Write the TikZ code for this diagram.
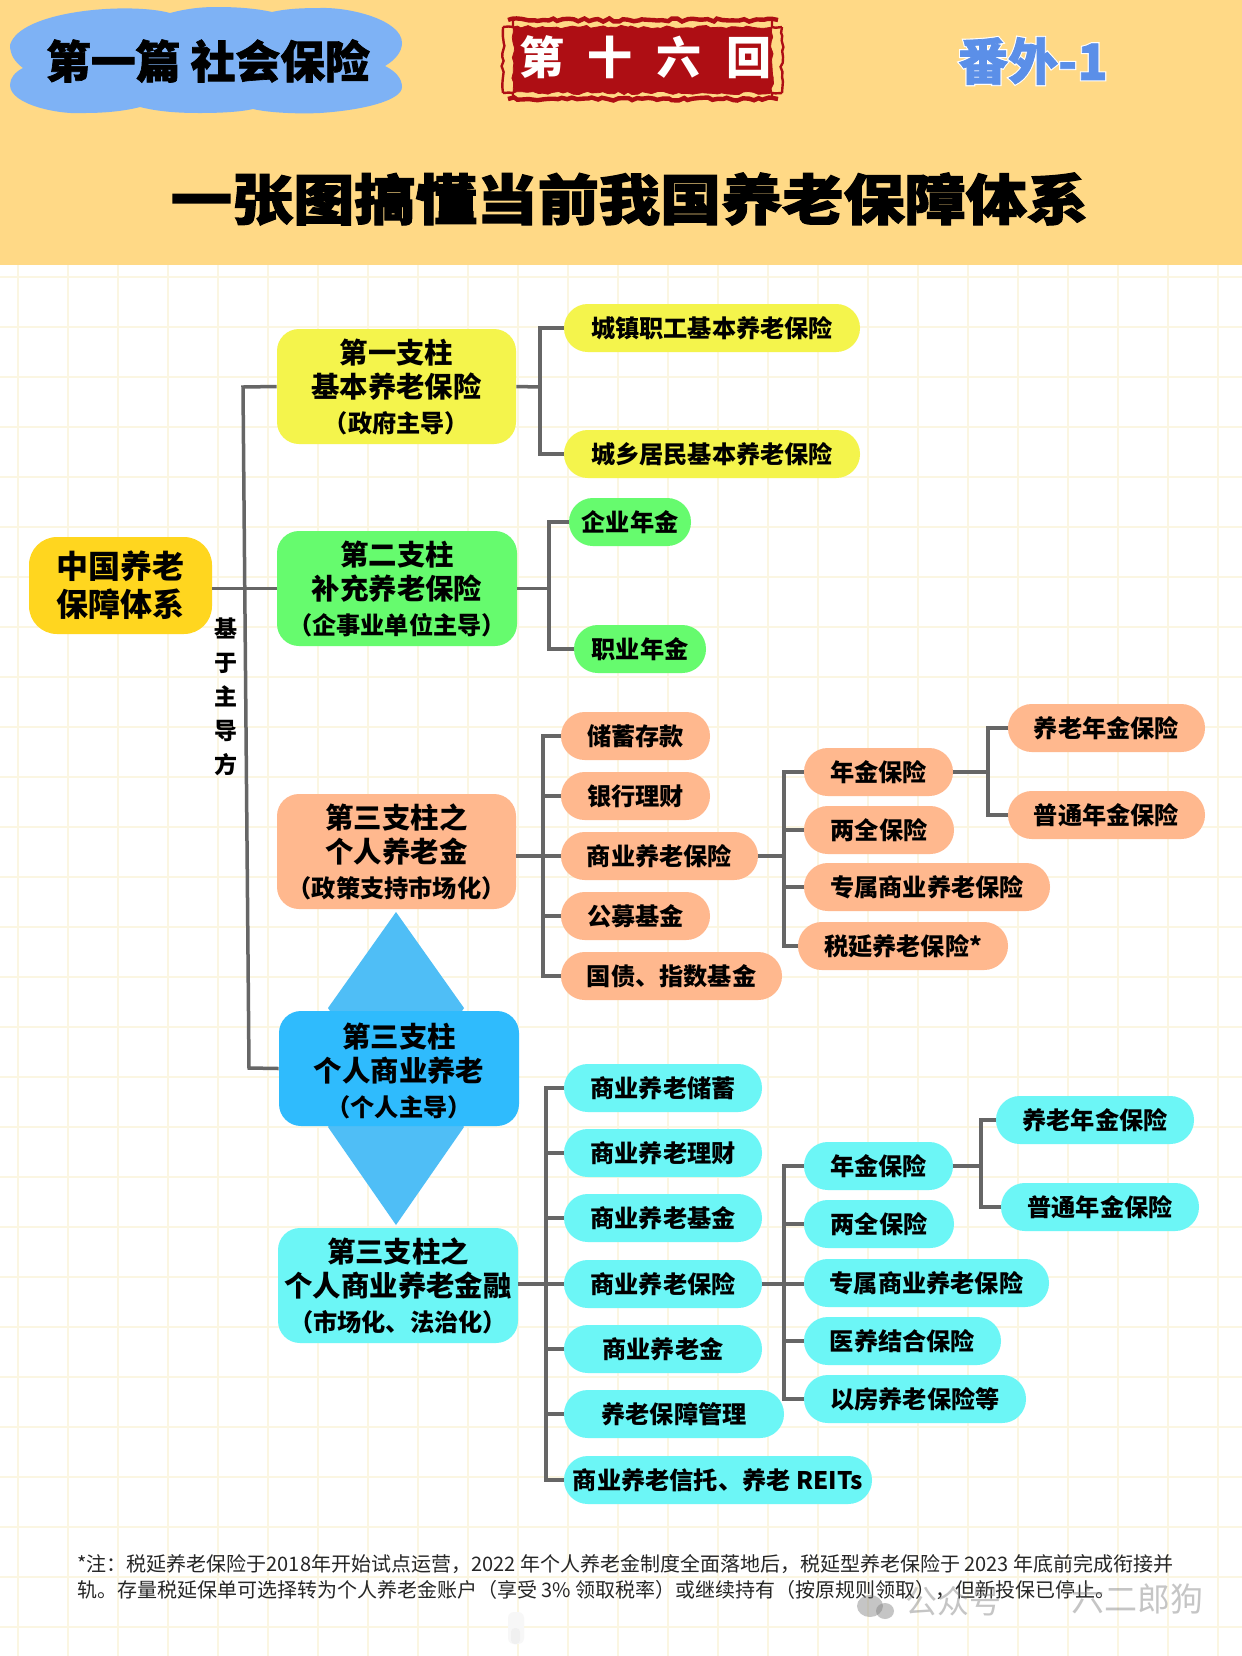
\documentclass[tikz,border=0pt]{standalone}
\usepackage{fontspec}
\usetikzlibrary{decorations.pathmorphing}
\setmainfont{Noto Sans CJK SC}
\newfontfamily\heavyfont[BoldFeatures={FakeBold=2.2,FakeStretch=1.12}]{Noto Sans CJK SC}
\newfontfamily\haloblock[BoldFeatures={FakeBold=6}]{Noto Sans CJK SC}
\newfontfamily\midheavy[BoldFeatures={FakeBold=1.5}]{Noto Sans CJK SC}
\definecolor{headbg}{HTML}{FFD986}
\definecolor{gridc}{HTML}{FBF6E2}
\definecolor{cloudc}{HTML}{7EB2F5}
\definecolor{sealred}{HTML}{AE0E14}
\definecolor{linegrey}{HTML}{666666}
\definecolor{rootc}{HTML}{FFD61F}
\definecolor{yellowc}{HTML}{F4F44C}
\definecolor{greenc}{HTML}{66FB6E}
\definecolor{orangec}{HTML}{FFB88E}
\definecolor{bluec}{HTML}{2FBBFD}
\definecolor{diac}{HTML}{4FBEF6}
\definecolor{cyanc}{HTML}{6CF6F6}
\definecolor{numc}{HTML}{5B8FE8}
\tikzset{
  conn/.style={draw=linegrey,line width=1.75pt,line join=miter},
  pill/.style={inner sep=0pt,rounded corners=11.9pt,font=\fontsize{12.1}{14}\selectfont\bfseries,text=black},
  bignode/.style={inner sep=0pt,rounded corners=11pt,align=center,font=\fontsize{14.2}{17}\selectfont\bfseries,text=black},
  rootnode/.style={inner sep=0pt,rounded corners=14pt,align=center,font=\fontsize{16}{19}\selectfont\bfseries,text=black},
  sealline/.style={draw=sealred,decorate,decoration={random steps,segment length=2.5pt,amplitude=0.8pt}},
}
\newcommand{\bx}[7]{\node[#2,minimum width={(#5-#3)*0.5},minimum height={(#6-#4)*0.5}] (#1) at ({(#3+#5)/2},{(#4+#6)/2}) {#7};}
\newcommand{\subl}[1]{{\fontsize{12.1}{14}\selectfont #1}}
\begin{document}
\begin{tikzpicture}[x=0.5pt,y=-0.5pt]
\pgfmathsetseed{7}
\useasboundingbox (0,0) rectangle (1242,1656);
\fill[white] (0,0) rectangle (1242,1656);
% grid
\foreach \k in {0,...,24} {\draw[gridc,line width=0.7pt] ({18+50*\k},265) -- ({18+50*\k},1656);}
\foreach \k in {5,...,32} {\draw[gridc,line width=1pt] (0,{27+50*\k}) -- (1242,{27+50*\k});}
% header
\fill[headbg] (0,0) rectangle (1242,265);
% cloud
\fill[cloudc] (170,13) .. controls (130,2) and (20,10) .. (10,45)
  .. controls (10,55) and (15,62) .. (23,68)
  .. controls (15,72) and (10,78) .. (10,85)
  .. controls (10,105) and (60,115) .. (85,113)
  .. controls (105,113) and (125,111) .. (140,107)
  .. controls (160,112) and (180,113) .. (200,113)
  .. controls (220,113) and (240,112) .. (253,109)
  .. controls (270,113) and (300,114) .. (320,113)
  .. controls (365,110) and (402,100) .. (402,87)
  .. controls (402,78) and (395,71) .. (385,66)
  .. controls (395,60) and (402,52) .. (402,43)
  .. controls (402,20) and (350,7) .. (320,8)
  .. controls (300,8) and (285,9) .. (272,12)
  .. controls (250,7) and (225,7) .. (215,7)
  .. controls (200,7) and (185,9) .. (170,13) -- cycle;
\node[inner sep=0pt,font=\fontsize{22.4}{24}\selectfont\midheavy\bfseries] (sect) at (208,61) {第一篇 社会保险};
% seal
\fill[sealred,sealline] (513,27) rectangle (772,93);
\draw[sealline,line width=2.2pt] (508,20) -- (778,20);
\draw[sealline,line width=2.2pt] (508,99) -- (778,99);
\draw[sealline,line width=1.2pt] (503,27) -- (503,93);
\draw[sealline,line width=1.2pt] (782,27) -- (782,93);
\draw[sealline,line width=1.2pt] (503,27) -- (513,27) -- (513,20);
\draw[sealline,line width=1.2pt] (782,27) -- (772,27) -- (772,20);
\draw[sealline,line width=1.2pt] (503,93) -- (513,93) -- (513,99);
\draw[sealline,line width=1.2pt] (782,93) -- (772,93) -- (772,99);
\node[inner sep=0pt,text=white,font=\fontsize{22.5}{24}\selectfont\bfseries] (seal) at (645,57) {第\hspace{12pt}十\hspace{12pt}六\hspace{12pt}回};
% extra label
\node[inner sep=0pt,text=numc,font=\fontsize{25}{28}\selectfont\midheavy\bfseries] (extra) at (1033,61) {\rlap{\color{white}\haloblock\bfseries 番外-1}番外-1};
% title
\node[inner sep=0pt,font=\fontsize{27.3}{33}\selectfont\heavyfont\bfseries] (title) at (629.5,199) {一张图搞懂当前我国养老保障体系};
% diamond
\fill[diac] (396,912) -- (464,1008) -- (460,1014) -- (332,1014) -- (328,1008) -- cycle;
\fill[diac] (396,1225) -- (464,1127) -- (460,1122) -- (332,1122) -- (328,1127) -- cycle;

% nodes
\bx{root}{rootnode,fill=rootc}{29}{537}{212}{634}{中国养老\\保障体系}
\bx{p1}{bignode,fill=yellowc}{277}{329}{516}{444}{第一支柱\\基本养老保险\\[0.5pt]\subl{（政府主导）}}
\bx{p2}{bignode,fill=greenc}{277}{531}{517}{646}{第二支柱\\补充养老保险\\[0.5pt]\subl{（企事业单位主导）}}
\bx{p3a}{bignode,fill=orangec}{277}{794}{516}{909}{第三支柱之\\个人养老金\\[0.5pt]\subl{（政策支持市场化）}}
\bx{p3}{bignode,fill=bluec}{279}{1011}{519}{1126}{\rule{0pt}{15pt}第三支柱\\个人商业养老\\[0.5pt]\subl{（个人主导）}}
\bx{p3b}{bignode,fill=cyanc}{278}{1228}{518}{1343}{第三支柱之\\个人商业养老金融\\[0.5pt]\subl{（市场化、法治化）}}

\bx{y1}{pill,fill=yellowc}{564}{304}{860}{352}{城镇职工基本养老保险}
\bx{y2}{pill,fill=yellowc}{564}{430}{860}{478}{城乡居民基本养老保险}
\bx{g1}{pill,fill=greenc}{569}{498}{691}{546}{企业年金}
\bx{g2}{pill,fill=greenc}{574}{625}{706}{673}{职业年金}

\bx{o1}{pill,fill=orangec}{561}{712}{710}{760}{储蓄存款}
\bx{o2}{pill,fill=orangec}{561}{772}{710}{820}{银行理财}
\bx{o3}{pill,fill=orangec}{561}{832}{758}{880}{商业养老保险}
\bx{o4}{pill,fill=orangec}{561}{892}{710}{940}{公募基金}
\bx{o5}{pill,fill=orangec}{561}{952}{782}{1000}{国债、指数基金}
\bx{oa}{pill,fill=orangec}{804}{748}{953}{796}{年金保险}
\bx{ob}{pill,fill=orangec}{804}{806}{954}{854}{两全保险}
\bx{oc}{pill,fill=orangec}{804}{863}{1050}{911}{专属商业养老保险}
\bx{od}{pill,fill=orangec}{798}{922}{1008}{970}{税延养老保险*}
\bx{oe}{pill,fill=orangec}{1008}{704}{1205}{752}{养老年金保险}
\bx{of}{pill,fill=orangec}{1008}{791}{1205}{839}{普通年金保险}

\bx{c1}{pill,fill=cyanc}{564}{1064}{762}{1112}{商业养老储蓄}
\bx{c2}{pill,fill=cyanc}{564}{1129}{762}{1177}{商业养老理财}
\bx{c3}{pill,fill=cyanc}{564}{1194}{762}{1242}{商业养老基金}
\bx{c4}{pill,fill=cyanc}{564}{1260}{762}{1308}{商业养老保险}
\bx{c5}{pill,fill=cyanc}{564}{1325}{762}{1373}{商业养老金}
\bx{c6}{pill,fill=cyanc}{564}{1390}{784}{1438}{养老保障管理}
\bx{c7}{pill,fill=cyanc}{564}{1456}{872}{1504}{商业养老信托、养老 REITs}
\bx{ca}{pill,fill=cyanc}{804}{1142}{953}{1190}{年金保险}
\bx{cb}{pill,fill=cyanc}{804}{1200}{954}{1248}{两全保险}
\bx{cc}{pill,fill=cyanc}{804}{1259}{1049}{1307}{专属商业养老保险}
\bx{cd}{pill,fill=cyanc}{804}{1317}{1001}{1365}{医养结合保险}
\bx{ce}{pill,fill=cyanc}{804}{1375}{1026}{1423}{以房养老保险等}
\bx{cf}{pill,fill=cyanc}{996}{1096}{1194}{1144}{养老年金保险}
\bx{cg}{pill,fill=cyanc}{1001}{1183}{1199}{1231}{普通年金保险}

% connectors
\coordinate (t1) at (243,387);
\coordinate (t2) at (249,1068);
\coordinate (s1) at (540,387);
\coordinate (s2) at (549,588.5);
\coordinate (s3) at (543,856);
\coordinate (s3b) at (784,856);
\coordinate (s3c) at (988,772);
\coordinate (s4) at (546,1285);
\coordinate (s4b) at (784,1284);
\coordinate (s4c) at (981,1166);
\draw[conn] (root.east |- p2.west) -- (p2.west);
\draw[conn] (p1.west) -- (t1) -- (t2) -- (p3.west);
\draw[conn] (p1.east) -- (s1);
\draw[conn] (y1.west) -- (y1.west -| s1) -- (y2.west -| s1) -- (y2.west);
\draw[conn] (p2.east) -- (s2);
\draw[conn] (g1.west) -- (g1.west -| s2) -- (g2.west -| s2) -- (g2.west);
\draw[conn] (p3a.east |- o3.west) -- (o3.west);
\draw[conn] (o1.west) -- (o1.west -| s3) -- (o5.west -| s3) -- (o5.west);
\draw[conn] (o2.west) -- (o2.west -| s3);
\draw[conn] (o4.west) -- (o4.west -| s3);
\draw[conn] (o3.east) -- (s3b);
\draw[conn] (oa.west) -- (oa.west -| s3b) -- (od.west -| s3b) -- (od.west);
\draw[conn] (ob.west) -- (ob.west -| s3b);
\draw[conn] (oc.west) -- (oc.west -| s3b);
\draw[conn] (oa.east) -- (s3c);
\draw[conn] (oe.west) -- (oe.west -| s3c) -- (of.west -| s3c) -- (of.west);
\draw[conn] (p3b.east |- c4.west) -- (c4.west);
\draw[conn] (c1.west) -- (c1.west -| s4) -- (c7.west -| s4) -- (c7.west);
\foreach \n in {c2,c3,c5,c6} {\draw[conn] (\n.west) -- (\n.west -| s4);}
\draw[conn] (c4.east) -- (c4.east -| cc.west);
\draw[conn] (ca.west) -- (ca.west -| s4b) -- (ce.west -| s4b) -- (ce.west);
\foreach \n in {cb,cd} {\draw[conn] (\n.west) -- (\n.west -| s4b);}
\draw[conn] (ca.east) -- (s4c);
\draw[conn] (cf.west) -- (cf.west -| s4c) -- (cg.west -| s4c) -- (cg.west);

% side label
\node[inner sep=0pt,align=center,font=\fontsize{11.5}{17}\selectfont\bfseries] (side) at (226,697) {基\\于\\主\\导\\方};
% note
\node[inner sep=0pt,align=left,anchor=west,text=black!85,font=\fontsize{10}{13.2}\selectfont] (note) at (77,1577) {*注：税延养老保险于2018年开始试点运营，2022 年个人养老金制度全面落地后，税延型养老保险于 2023 年底前完成衔接并\\轨。存量税延保单可选择转为个人养老金账户（享受 3\% 领取税率）或继续持有（按原规则领取），但新投保已停止。};
% smudge
\fill[black!3,rounded corners=3pt] (508,1612) rectangle (524,1644);
\fill[black!6,rounded corners=2pt] (511,1628) rectangle (520,1644);
% watermark
\begin{scope}[opacity=0.45]
\fill[gray] (870,1606) ellipse [x radius=13,y radius=11];
\fill[gray] (885,1611) ellipse [x radius=9,y radius=8];
\node[inner sep=0pt,text=gray,anchor=west,font=\fontsize{16}{18}\selectfont] (wm1) at (905,1601) {公众号};
\node[inner sep=0pt,text=gray,anchor=west,font=\fontsize{16.5}{18}\selectfont] (wm2) at (1071,1599) {六二郎狗};
\end{scope}
\end{tikzpicture}
\end{document}
